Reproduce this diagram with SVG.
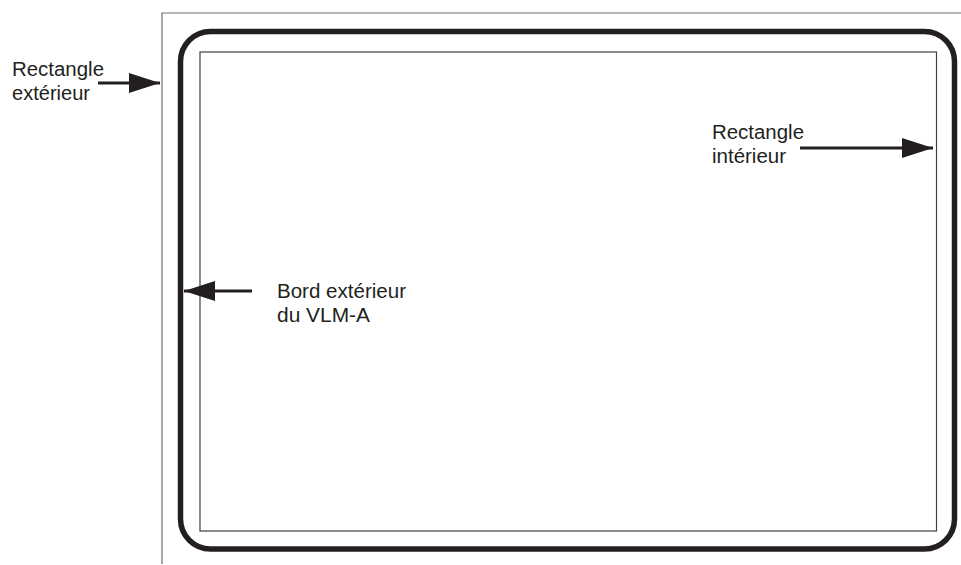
<svg xmlns="http://www.w3.org/2000/svg" width="961" height="565" viewBox="0 0 961 565">
<style>
.lbl{font-family:"Liberation Sans",Arial,sans-serif;font-size:20px;fill:#231f20}
.arr{stroke:#231f20;stroke-width:3;fill:none}
</style>
<defs>
<marker id="ah" markerUnits="userSpaceOnUse" markerWidth="32" markerHeight="20" refX="31" refY="10" orient="auto">
<path d="M0,0 L31,10 L0,20 Z" fill="#231f20"/>
</marker>
</defs>
<rect width="961" height="565" fill="#fff"/>
<g id="outer-rect">
<path d="M162,564 V13 H961" fill="none" stroke="#6d6e71" stroke-width="1.2"/>
</g>
<g id="vlm-border">
<rect x="180.5" y="31.5" width="774" height="517.5" rx="30" ry="30" fill="none" stroke="#231f20" stroke-width="5.5"/>
</g>
<g id="inner-rect">
<rect x="200" y="52" width="736.5" height="479" fill="none" stroke="#414042" stroke-width="1.2"/>
</g>
<g id="label-outer">
<text class="lbl" x="12" y="76" textLength="92" lengthAdjust="spacingAndGlyphs">Rectangle</text>
<text class="lbl" x="12" y="100" textLength="78" lengthAdjust="spacingAndGlyphs">extérieur</text>
</g>
<g id="label-inner">
<text class="lbl" x="712" y="139" textLength="92" lengthAdjust="spacingAndGlyphs">Rectangle</text>
<text class="lbl" x="712" y="163" textLength="74" lengthAdjust="spacingAndGlyphs">intérieur</text>
</g>
<g id="label-border">
<text class="lbl" x="277" y="298" textLength="129" lengthAdjust="spacingAndGlyphs">Bord extérieur</text>
<text class="lbl" x="277" y="322" textLength="93" lengthAdjust="spacingAndGlyphs">du VLM-A</text>
</g>
<g id="connectors">
<line class="arr" x1="98" y1="83" x2="160" y2="83" marker-end="url(#ah)"/>
<line class="arr" x1="800" y1="148" x2="933" y2="148" marker-end="url(#ah)"/>
<line class="arr" x1="252" y1="291" x2="184" y2="291" marker-end="url(#ah)"/>
</g>
</svg>
